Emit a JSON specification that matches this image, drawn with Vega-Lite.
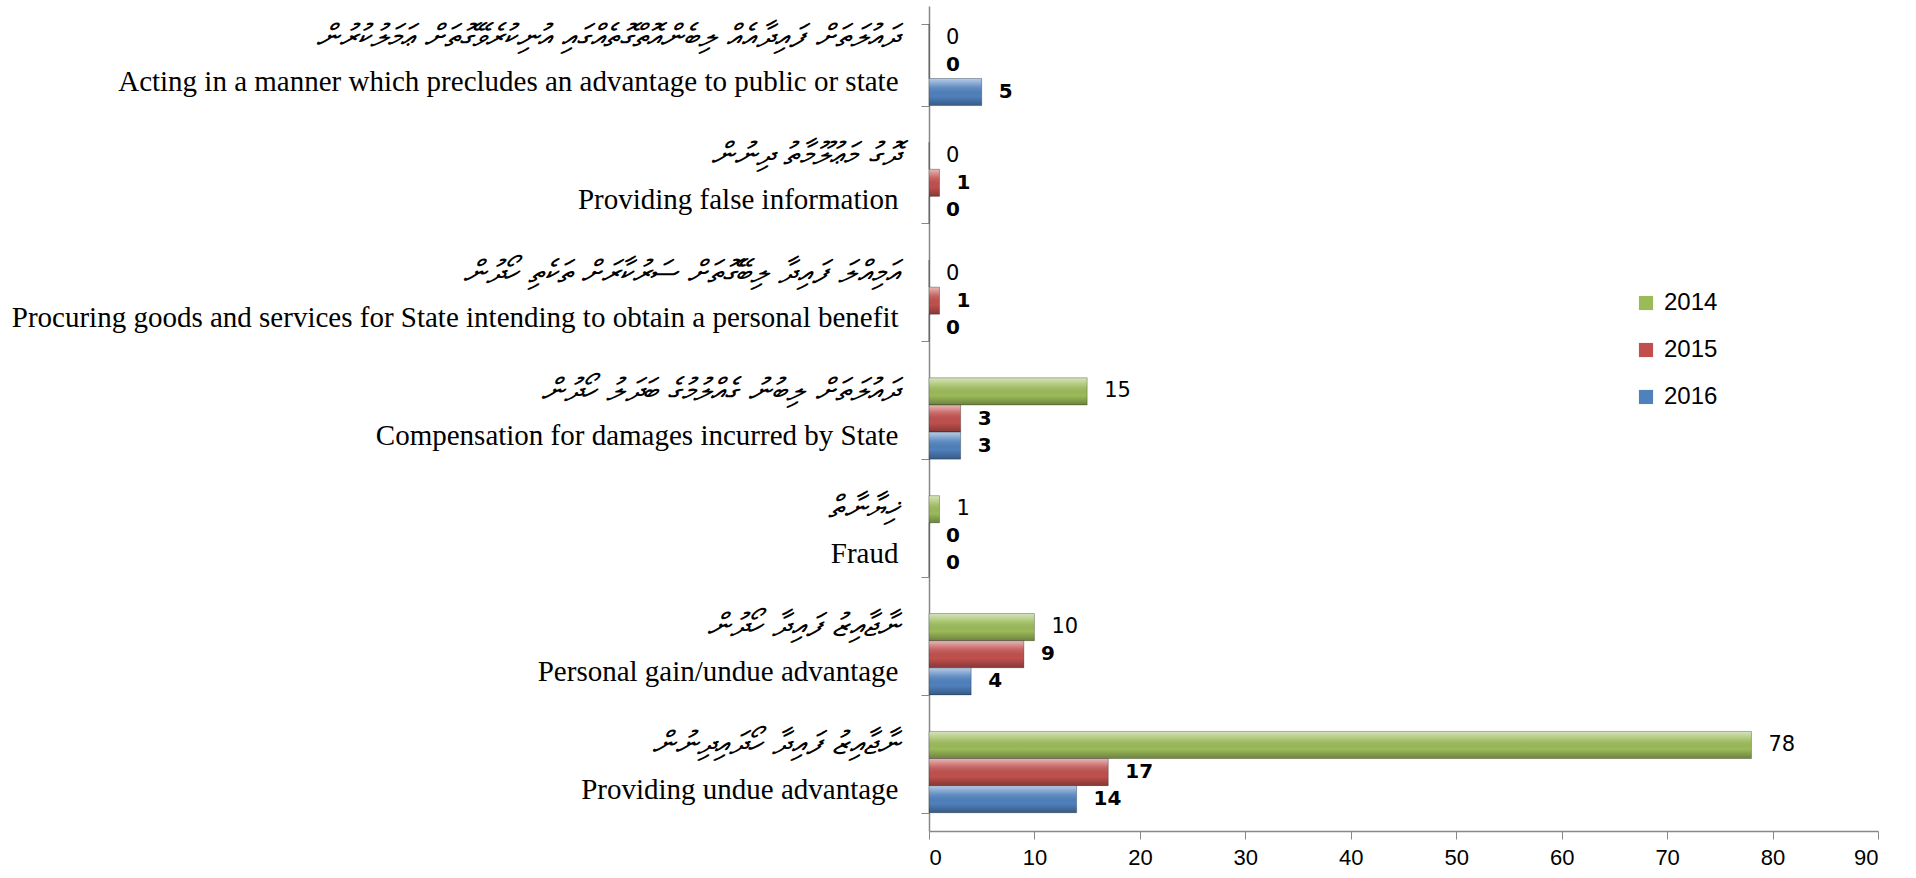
{
  "$schema": "https://vega.github.io/schema/vega-lite/v6.json",
  "width": 949,
  "height": 825,
  "autosize": "none",
  "padding": {"left": 929, "top": 6, "right": 38, "bottom": 47},
  "background": "white",
  "config": {"view": {"stroke": null}},
  "data": {
    "values": [
      {"cat": "Acting in a manner which precludes an advantage to public or state|ދައުލަތަށް ފައިދާއެއް ލިބެންއޮތްގޮތެއްގައި އުނިކުރެވޭގޮތަށް ޢަމަލުކުރުން", "year": "2014", "value": 0},
      {"cat": "Acting in a manner which precludes an advantage to public or state|ދައުލަތަށް ފައިދާއެއް ލިބެންއޮތްގޮތެއްގައި އުނިކުރެވޭގޮތަށް ޢަމަލުކުރުން", "year": "2015", "value": 0},
      {"cat": "Acting in a manner which precludes an advantage to public or state|ދައުލަތަށް ފައިދާއެއް ލިބެންއޮތްގޮތެއްގައި އުނިކުރެވޭގޮތަށް ޢަމަލުކުރުން", "year": "2016", "value": 5},
      {"cat": "Providing false information|ދޮގު މަޢުލޫމާތު ދިނުން", "year": "2014", "value": 0},
      {"cat": "Providing false information|ދޮގު މަޢުލޫމާތު ދިނުން", "year": "2015", "value": 1},
      {"cat": "Providing false information|ދޮގު މަޢުލޫމާތު ދިނުން", "year": "2016", "value": 0},
      {"cat": "Procuring goods and services for State intending to obtain a personal benefit|އަމިއްލަ ފައިދާ ލިބޭގޮތަށް ސަރުކާރަށް ތަކެތި ހޯދުން", "year": "2014", "value": 0},
      {"cat": "Procuring goods and services for State intending to obtain a personal benefit|އަމިއްލަ ފައިދާ ލިބޭގޮތަށް ސަރުކާރަށް ތަކެތި ހޯދުން", "year": "2015", "value": 1},
      {"cat": "Procuring goods and services for State intending to obtain a personal benefit|އަމިއްލަ ފައިދާ ލިބޭގޮތަށް ސަރުކާރަށް ތަކެތި ހޯދުން", "year": "2016", "value": 0},
      {"cat": "Compensation for damages incurred by State|ދައުލަތަށް ލިބުނު ގެއްލުމުގެ ބަދަލު ހޯދުން", "year": "2014", "value": 15},
      {"cat": "Compensation for damages incurred by State|ދައުލަތަށް ލިބުނު ގެއްލުމުގެ ބަދަލު ހޯދުން", "year": "2015", "value": 3},
      {"cat": "Compensation for damages incurred by State|ދައުލަތަށް ލިބުނު ގެއްލުމުގެ ބަދަލު ހޯދުން", "year": "2016", "value": 3},
      {"cat": "Fraud|ޚިޔާނާތް", "year": "2014", "value": 1},
      {"cat": "Fraud|ޚިޔާނާތް", "year": "2015", "value": 0},
      {"cat": "Fraud|ޚިޔާނާތް", "year": "2016", "value": 0},
      {"cat": "Personal gain/undue advantage|ނާޖާއިޒު ފައިދާ ހޯދުން", "year": "2014", "value": 10},
      {"cat": "Personal gain/undue advantage|ނާޖާއިޒު ފައިދާ ހޯދުން", "year": "2015", "value": 9},
      {"cat": "Personal gain/undue advantage|ނާޖާއިޒު ފައިދާ ހޯދުން", "year": "2016", "value": 4},
      {"cat": "Providing undue advantage|ނާޖާއިޒު ފައިދާ ހޯދައިދިނުން", "year": "2014", "value": 78},
      {"cat": "Providing undue advantage|ނާޖާއިޒު ފައިދާ ހޯދައިދިނުން", "year": "2015", "value": 17},
      {"cat": "Providing undue advantage|ނާޖާއިޒު ފައިދާ ހޯދައިދިނުން", "year": "2016", "value": 14}
    ]
  },
  "resolve": {"axis": {"y": "independent"}},
  "layer": [
    {
      "mark": {"type": "bar"},
      "encoding": {
        "y": {
          "field": "cat", "type": "nominal", "sort": null,
          "scale": {"paddingInner": 0.31, "paddingOuter": 0.155},
          "axis": {
            "orient": "left", "title": null, "grid": false,
            "labelExpr": "datum.value ? split(datum.value, '|')[0] : ''",
            "labelFont": "Liberation Serif", "labelFontSize": 29, "labelColor": "#000000",
            "labelOffset": 17, "labelPadding": 23, "labelLimit": 1200,
            "tickBand": "extent", "tickSize": 8, "tickColor": "#888888",
            "domainColor": "#888888", "domainWidth": 1.5
          }
        },
        "yOffset": {"field": "year", "type": "nominal", "sort": ["2014", "2015", "2016"], "scale": {"paddingInner": 0, "paddingOuter": 0}},
        "x": {
          "field": "value", "type": "quantitative",
          "scale": {"domain": [0, 90]},
          "axis": {
            "title": null, "grid": false, "values": [0, 10, 20, 30, 40, 50, 60, 70, 80, 90],
            "labelFont": "Liberation Sans", "labelFontSize": 22, "labelColor": "#000000",
            "labelPadding": 8, "tickSize": 8, "tickColor": "#888888",
            "domainColor": "#888888", "domainWidth": 1.5
          }
        },
        "color": {
          "field": "year", "type": "nominal",
          "scale": {"domain": ["2014", "2015", "2016"], "range": ["#9BBB59", "#C0504D", "#4F81BD"]},
          "legend": {
            "title": null, "orient": "none", "legendX": 705, "legendY": 285,
            "symbolType": "square", "symbolSize": 200, "symbolStrokeWidth": 0,
            "labelFont": "Liberation Sans", "labelFontSize": 24, "labelColor": "#000000",
            "rowPadding": 23, "labelOffset": 6, "padding": 0
          }
        }
      }
    },
    {
      "mark": {
        "type": "bar",
        "fill": {
          "gradient": "linear", "x1": 0, "y1": 0, "x2": 0, "y2": 1,
          "stops": [
            {"offset": 0, "color": "rgba(255,255,255,0.6)"},
            {"offset": 0.3, "color": "rgba(255,255,255,0.15)"},
            {"offset": 0.65, "color": "rgba(0,0,0,0)"},
            {"offset": 1, "color": "rgba(0,0,0,0.3)"}
          ]
        },
        "stroke": "rgba(0,0,0,0.25)",
        "strokeWidth": 1
      },
      "encoding": {
        "y": {"field": "cat", "type": "nominal", "sort": null, "axis": null},
        "yOffset": {"field": "year", "type": "nominal", "sort": ["2014", "2015", "2016"]},
        "x": {"field": "value", "type": "quantitative"}
      }
    },
    {
      "transform": [{"filter": "datum.year == '2014'"}],
      "mark": {"type": "text", "align": "left", "baseline": "middle", "dx": 17, "font": "DejaVu Sans", "fontSize": 21, "fontWeight": "normal", "color": "#000000"},
      "encoding": {
        "y": {
          "field": "cat", "type": "nominal", "sort": null,
          "axis": {
            "orient": "left", "title": null, "grid": false, "domain": false, "ticks": false,
            "labelExpr": "datum.value ? split(datum.value, '|')[1] : ''",
            "labelFont": "DejaVu Sans", "labelFontSize": 32, "labelFontStyle": "italic", "labelColor": "#000000",
            "labelOffset": -28, "labelPadding": 31, "labelLimit": 1200
          }
        },
        "yOffset": {"field": "year", "type": "nominal", "sort": ["2014", "2015", "2016"]},
        "x": {"field": "value", "type": "quantitative"},
        "text": {"field": "value", "type": "quantitative"}
      }
    },
    {
      "transform": [{"filter": "datum.year != '2014'"}],
      "mark": {"type": "text", "align": "left", "baseline": "middle", "dx": 17, "font": "DejaVu Sans", "fontSize": 20, "fontWeight": "bold", "color": "#000000"},
      "encoding": {
        "y": {"field": "cat", "type": "nominal", "sort": null, "axis": null},
        "yOffset": {"field": "year", "type": "nominal", "sort": ["2014", "2015", "2016"]},
        "x": {"field": "value", "type": "quantitative"},
        "text": {"field": "value", "type": "quantitative"}
      }
    }
  ]
}
